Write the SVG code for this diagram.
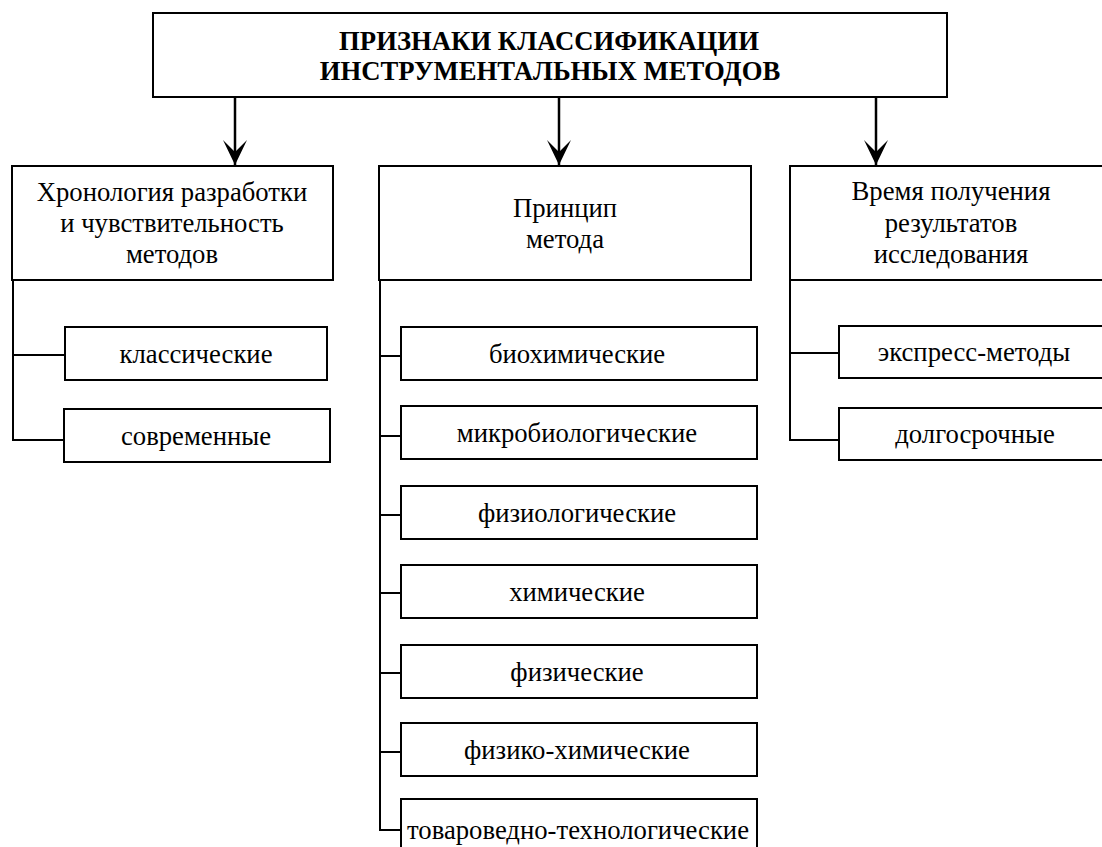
<svg xmlns="http://www.w3.org/2000/svg" width="1102" height="847" viewBox="0 0 1102 847">
<style>
.box{fill:#fff;stroke:#000;stroke-width:2}
.ln{fill:none;stroke:#000;stroke-width:2}
.ar{fill:none;stroke:#000;stroke-width:2.5}
text{font-family:"Liberation Serif","Times New Roman",serif;font-size:26.7px;fill:#000;text-anchor:middle}
.t{font-weight:bold}
</style>
<defs>
<marker id="arr" markerUnits="userSpaceOnUse" viewBox="-26 -13 27 26" markerWidth="27" markerHeight="26" refX="0" refY="0" orient="auto">
<path d="M0,0 L-25,-12 L-13,0 L-25,12 Z" fill="#000"/>
</marker>
</defs>
<rect width="1102" height="847" fill="#fff"/>
<g id="connectors">
<line class="ar" x1="235" y1="97" x2="235" y2="165" marker-end="url(#arr)"/>
<line class="ar" x1="559" y1="97" x2="559" y2="165" marker-end="url(#arr)"/>
<line class="ar" x1="876" y1="97" x2="876" y2="165" marker-end="url(#arr)"/>
<path class="ln" d="M13,280 V440 H65 M13,355 H65"/>
<path class="ln" d="M380,280 V830 H401 M380,356 H401 M380,436 H401 M380,515 H401 M380,593 H401 M380,673 H401 M380,752 H401"/>
<path class="ln" d="M790,280 V440 H839 M790,353 H839"/>
</g>
<g id="root">
<rect class="box" x="153" y="13" width="794" height="84"/>
<text class="t" x="549" y="50">ПРИЗНАКИ КЛАССИФИКАЦИИ</text>
<text class="t" x="550" y="80">ИНСТРУМЕНТАЛЬНЫХ МЕТОДОВ</text>
</g>
<g id="chron">
<rect class="box" x="12" y="166" width="321" height="114"/>
<text x="172" y="201">Хронология разработки</text>
<text x="172" y="232">и чувствительность</text>
<text x="172" y="263">методов</text>
</g>
<g id="principle">
<rect class="box" x="379" y="166" width="372" height="114"/>
<text x="565" y="217">Принцип</text>
<text x="565" y="248">метода</text>
</g>
<g id="time">
<rect class="box" x="790" y="166" width="330" height="114"/>
<text x="951" y="200">Время получения</text>
<text x="951" y="232">результатов</text>
<text x="951" y="263">исследования</text>
</g>
<g id="classic"><rect class="box" x="65" y="327" width="262" height="53"/><text x="196" y="363">классические</text></g>
<g id="modern"><rect class="box" x="64" y="409" width="266" height="53"/><text x="196" y="445">современные</text></g>
<g id="bio"><rect class="box" x="401" y="327" width="356" height="53"/><text x="577" y="363">биохимические</text></g>
<g id="micro"><rect class="box" x="401" y="406" width="356" height="53"/><text x="577" y="442">микробиологические</text></g>
<g id="physio"><rect class="box" x="401" y="486" width="356" height="53"/><text x="577" y="522">физиологические</text></g>
<g id="chem"><rect class="box" x="401" y="565" width="356" height="53"/><text x="577" y="601">химические</text></g>
<g id="phys"><rect class="box" x="401" y="645" width="356" height="53"/><text x="577" y="681">физические</text></g>
<g id="physchem"><rect class="box" x="401" y="723" width="356" height="53"/><text x="577" y="759">физико-химические</text></g>
<g id="tech"><rect class="box" x="401" y="799" width="356" height="60"/><text x="578" y="839">товароведно-технологические</text></g>
<g id="express"><rect class="box" x="839" y="326" width="280" height="52"/><text x="974" y="361">экспресс-методы</text></g>
<g id="long"><rect class="box" x="839" y="408" width="280" height="52"/><text x="975" y="443">долгосрочные</text></g>
</svg>
